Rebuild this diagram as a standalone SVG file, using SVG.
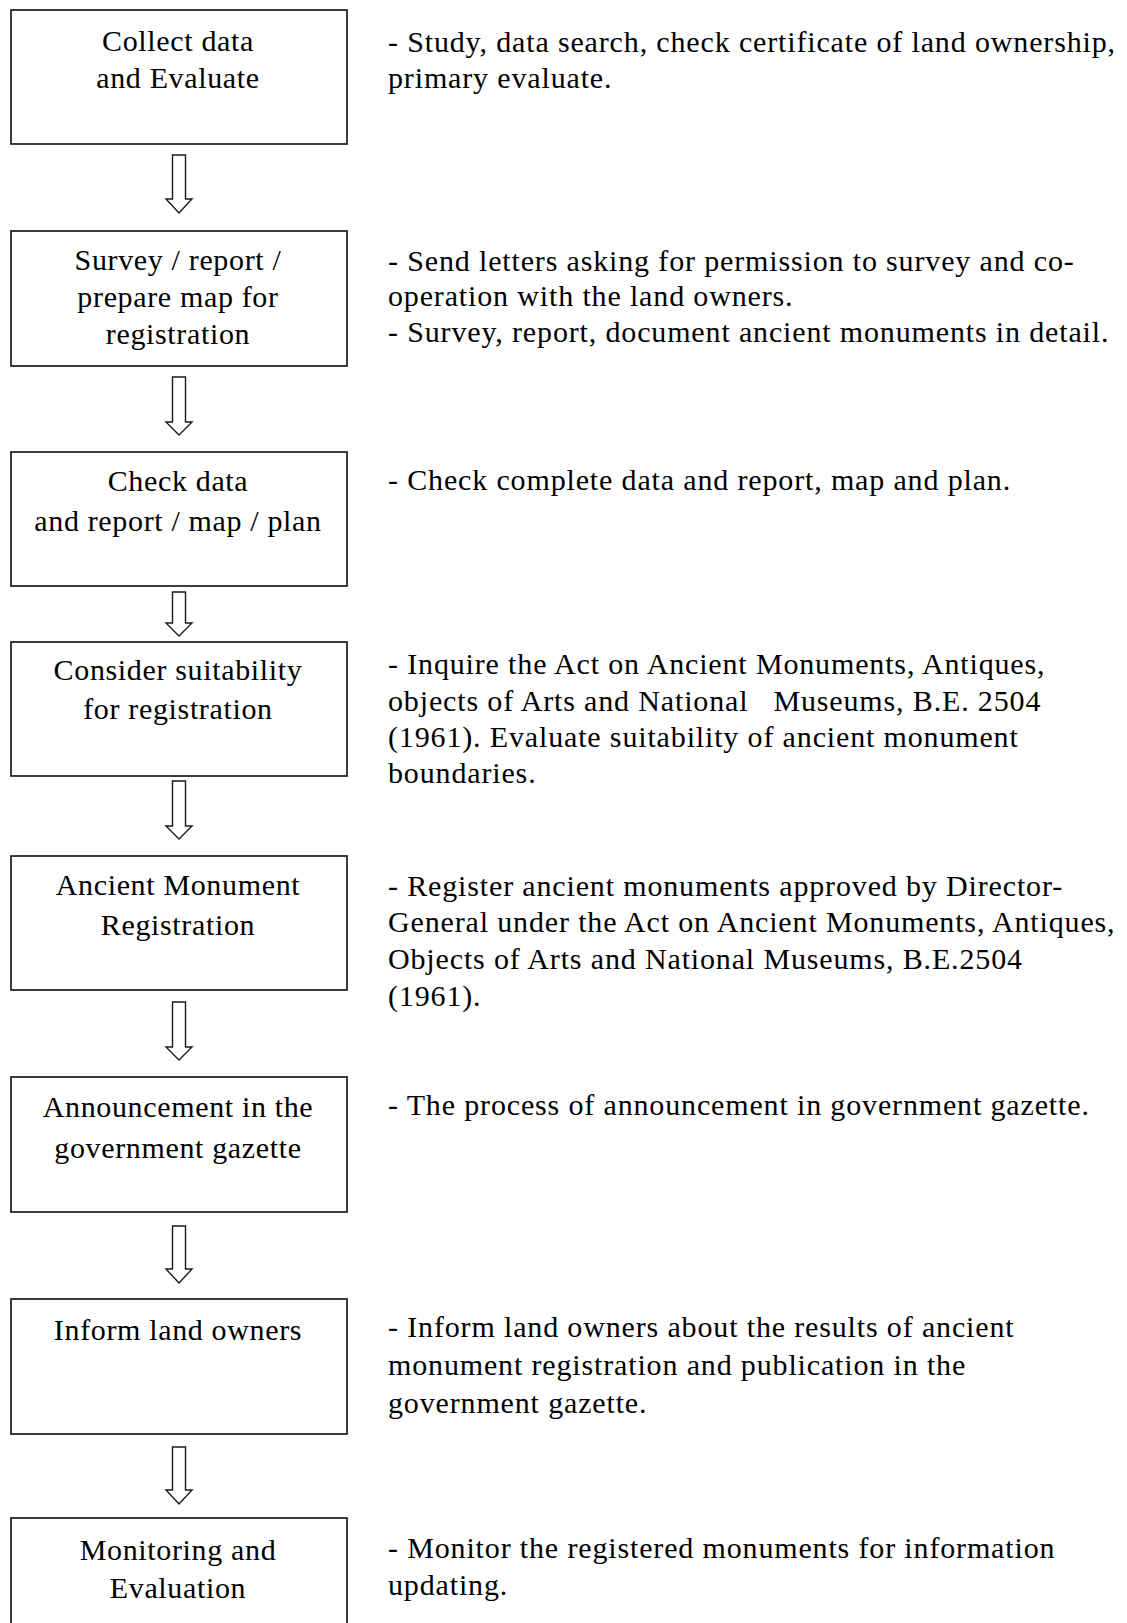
<svg xmlns="http://www.w3.org/2000/svg" width="1127" height="1623" viewBox="0 0 1127 1623">
<style>
.box{fill:#fff;stroke:#1a1a1a;stroke-width:1.7}
.arr{fill:#fff;stroke:#1a1a1a;stroke-width:1.4;stroke-linejoin:miter}
.bt{font-family:"Liberation Serif","Times New Roman",serif;font-size:30px;fill:#000;text-anchor:middle;letter-spacing:0.65px}
.dt{font-family:"Liberation Serif","Times New Roman",serif;font-size:30px;fill:#000;letter-spacing:0.85px}
</style>
<rect width="1127" height="1623" fill="#fff"/>
<g id="connectors">
<path class="arr" d="M172.5,155 V199 H166 L179,213 L192,199 H185.5 V155 Z"/>
<path class="arr" d="M172.5,377 V422 H166 L179,435 L192,422 H185.5 V377 Z"/>
<path class="arr" d="M172.5,592 V623 H166 L179,636 L192,623 H185.5 V592 Z"/>
<path class="arr" d="M172.5,781 V826 H166 L179,839 L192,826 H185.5 V781 Z"/>
<path class="arr" d="M172.5,1002 V1047 H166 L179,1060 L192,1047 H185.5 V1002 Z"/>
<path class="arr" d="M172.5,1226 V1269 H166 L179,1283 L192,1269 H185.5 V1226 Z"/>
<path class="arr" d="M172.5,1447 V1490 H166 L179,1504 L192,1490 H185.5 V1447 Z"/>
</g>
<g id="n1"><rect class="box" x="11" y="10" width="336" height="134"/>
<text class="bt" x="178" y="51">Collect data</text><text class="bt" x="178" y="88">and Evaluate</text></g>
<g id="n2"><rect class="box" x="11" y="231" width="336" height="135"/>
<text class="bt" x="178" y="270">Survey / report /</text><text class="bt" x="178" y="307">prepare map for</text><text class="bt" x="178" y="344">registration</text></g>
<g id="n3"><rect class="box" x="11" y="452" width="336" height="134"/>
<text class="bt" x="178" y="491">Check data</text><text class="bt" x="178" y="531">and report / map / plan</text></g>
<g id="n4"><rect class="box" x="11" y="642" width="336" height="134"/>
<text class="bt" x="178" y="680">Consider suitability</text><text class="bt" x="178" y="719">for registration</text></g>
<g id="n5"><rect class="box" x="11" y="856" width="336" height="134"/>
<text class="bt" x="178" y="895">Ancient Monument</text><text class="bt" x="178" y="935">Registration</text></g>
<g id="n6"><rect class="box" x="11" y="1077" width="336" height="135"/>
<text class="bt" x="178" y="1117">Announcement in the</text><text class="bt" x="178" y="1158">government gazette</text></g>
<g id="n7"><rect class="box" x="11" y="1299" width="336" height="135"/>
<text class="bt" x="178" y="1340">Inform land owners</text></g>
<g id="n8"><rect class="box" x="11" y="1518" width="336" height="150"/>
<text class="bt" x="178" y="1560">Monitoring and</text><text class="bt" x="178" y="1598">Evaluation</text></g>
<g id="descriptions">
<text class="dt" x="388" y="52">- Study, data search, check certificate of land ownership,</text>
<text class="dt" x="388" y="88">primary evaluate.</text>
<text class="dt" x="388" y="271">- Send letters asking for permission to survey and co-</text>
<text class="dt" x="388" y="306">operation with the land owners.</text>
<text class="dt" x="388" y="342">- Survey, report, document ancient monuments in detail.</text>
<text class="dt" x="388" y="490">- Check complete data and report, map and plan.</text>
<text class="dt" x="388" y="674">- Inquire the Act on Ancient Monuments, Antiques,</text>
<text class="dt" x="388" y="711" xml:space="preserve">objects of Arts and National   Museums, B.E. 2504</text>
<text class="dt" x="388" y="747">(1961). Evaluate suitability of ancient monument</text>
<text class="dt" x="388" y="783">boundaries.</text>
<text class="dt" x="388" y="896">- Register ancient monuments approved by Director-</text>
<text class="dt" x="388" y="932">General under the Act on Ancient Monuments, Antiques,</text>
<text class="dt" x="388" y="969">Objects of Arts and National Museums, B.E.2504</text>
<text class="dt" x="388" y="1006">(1961).</text>
<text class="dt" x="388" y="1115">- The process of announcement in government gazette.</text>
<text class="dt" x="388" y="1337">- Inform land owners about the results of ancient</text>
<text class="dt" x="388" y="1375">monument registration and publication in the</text>
<text class="dt" x="388" y="1413">government gazette.</text>
<text class="dt" x="388" y="1558">- Monitor the registered monuments for information</text>
<text class="dt" x="388" y="1595">updating.</text>
</g>
</svg>
